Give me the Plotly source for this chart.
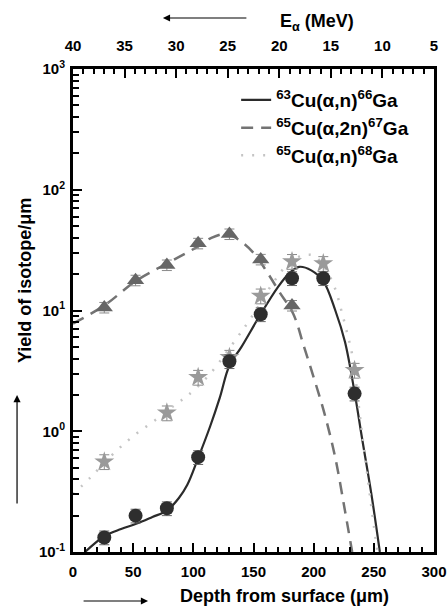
import plotly.graph_objects as go

# ---- data ----
depth_ga66 = [26, 52, 78, 104, 130, 156, 182, 208, 234]
yield_ga66 = [0.132, 0.20, 0.23, 0.61, 3.8, 9.3, 18.5, 18.5, 2.05]

depth_ga67 = [26, 52, 78, 104, 130, 156, 182]
yield_ga67 = [10.6, 17.8, 23.8, 36.0, 43.0, 26.5, 11.0]

depth_ga68 = [26, 78, 104, 130, 156, 182, 208, 234]
yield_ga68 = [0.56, 1.42, 2.8, 4.1, 13.2, 25.5, 24.5, 3.2]

fit66_x = [10, 26, 40, 53, 66, 78, 88, 95, 104, 114, 122, 130, 140, 155, 170, 180, 188,
           198, 208, 218, 226, 234, 240, 248, 255]
fit66_y = [0.1, 0.135, 0.155, 0.172, 0.195, 0.22, 0.28, 0.36, 0.6, 1.1, 1.9, 3.5, 5.0,
           9.0, 15.5, 20.5, 23.0, 21.5, 17.5, 10.0, 5.5, 2.1, 0.9, 0.3, 0.1]

fit67_x = [0, 26, 52, 78, 104, 115, 128, 140, 150, 161, 172, 183, 192, 200, 209, 218, 226, 232]
fit67_y = [7.8, 11.0, 17.5, 24.5, 34.0, 40.0, 43.0, 37.0, 30.0, 21.0, 14.0, 9.4, 5.0, 2.8,
           1.4, 0.6, 0.22, 0.1]

fit68_x = [0, 14, 32, 50, 68, 86, 96, 114, 135, 148, 166, 180, 191, 200, 210, 218, 223,
           228, 232, 240, 247, 253]
fit68_y = [0.3, 0.41, 0.63, 0.91, 1.23, 1.69, 2.0, 3.0, 5.7, 8.7, 16.8, 25.0, 28.5, 28.5,
           22.0, 15.0, 10.0, 6.4, 4.3, 1.0, 0.28, 0.1]

energy_ticks = [40, 35, 30, 25, 20, 15, 10, 5]
y_tickvals = [0.1, 1, 10, 100, 1000]
y_ticktext = ["10<sup>-1</sup>", "10<sup>0</sup>", "10<sup>1</sup>", "10<sup>2</sup>", "10<sup>3</sup>"]

names = ["<b><sup>63</sup>Cu(α,n)<sup>66</sup>Ga</b>",
         "<b><sup>65</sup>Cu(α,2n)<sup>67</sup>Ga</b>",
         "<b><sup>65</sup>Cu(α,n)<sup>68</sup>Ga</b>"]

FONT = "Liberation Sans"

fig = go.Figure()

# fitted curves (legend entries)
fig.add_trace(go.Scatter(x=fit66_x, y=fit66_y, mode="lines", name=names[0],
                         line=dict(color="#2b2b2b", width=2.2, shape="spline")))
fig.add_trace(go.Scatter(x=fit67_x, y=fit67_y, mode="lines", name=names[1],
                         line=dict(color="#737373", width=2.5, dash="12px,8px", shape="spline")))
fig.add_trace(go.Scatter(x=fit68_x, y=fit68_y, mode="lines", name=names[2],
                         line=dict(color="#c4c4c4", width=2.5, dash="2px,9px", shape="spline")))

# data points
fig.add_trace(go.Scatter(x=depth_ga67, y=yield_ga67, mode="markers", showlegend=False,
                         marker=dict(symbol="triangle-up", size=15, color="#666666"),
                         error_y=dict(type="percent", value=10, color="#8a8a8a", thickness=1, width=5)))
fig.add_trace(go.Scatter(x=depth_ga68, y=yield_ga68, mode="markers", showlegend=False,
                         marker=dict(symbol="star", size=15, color="#9a9a9a"),
                         error_y=dict(type="percent", value=14, color="#8a8a8a", thickness=1, width=5)))
fig.add_trace(go.Scatter(x=depth_ga66, y=yield_ga66, mode="markers", showlegend=False,
                         marker=dict(symbol="circle", size=14, color="#2e2e2e"),
                         error_y=dict(type="percent", value=13, color="#666666", thickness=1, width=5)))

# invisible trace to activate the top (energy) axis
fig.add_trace(go.Scatter(x=[energy_ticks[0], energy_ticks[-1]], y=[1, 1], xaxis="x2",
                         mode="markers", marker=dict(opacity=0), showlegend=False,
                         hoverinfo="skip"))

tickfont = dict(family=FONT, size=15, color="black", weight="bold")

fig.update_layout(
    width=448, height=610,
    margin=dict(l=73, r=14, t=69, b=58, autoexpand=False),
    paper_bgcolor="white", plot_bgcolor="white",
    font=dict(family=FONT, color="black"),
    xaxis=dict(range=[0, 300], dtick=50, tick0=0, ticks="inside", ticklen=9, tickwidth=2,
               tickcolor="black", showline=True, linewidth=3, linecolor="black", mirror=True,
               showgrid=False, zeroline=False, tickfont=tickfont, automargin=False,
               ticklabelstandoff=4,
               minor=dict(dtick=10, tick0=0, ticks="inside", ticklen=5, tickwidth=2,
                          tickcolor="black", showgrid=False)),
    xaxis2=dict(overlaying="x", side="top", range=[40, 5], tickmode="array",
                tickvals=energy_ticks, ticks="inside", ticklen=9, tickwidth=2,
                tickcolor="black", showline=True, linewidth=3, linecolor="black",
                showgrid=False, zeroline=False, tickfont=tickfont, automargin=False,
                ticklabelstandoff=9,
                minor=dict(dtick=1, tick0=0, ticks="inside", ticklen=5, tickwidth=2,
                           tickcolor="black", showgrid=False)),
    yaxis=dict(type="log", range=[-1, 3], tickmode="array", tickvals=y_tickvals,
               ticktext=y_ticktext, ticks="inside", ticklen=9, tickwidth=2, tickcolor="black",
               showline=True, linewidth=3, linecolor="black", mirror=True, showgrid=False,
               zeroline=False, tickfont=tickfont, automargin=False, ticklabelstandoff=2,
               minor=dict(dtick="D1", ticks="inside", ticklen=6, tickwidth=2,
                          tickcolor="black", showgrid=False)),
    legend=dict(x=0.945, y=0.975, xanchor="right", yanchor="top", bgcolor="rgba(0,0,0,0)",
                font=dict(family=FONT, size=19, color="black"), tracegroupgap=0),
    showlegend=True,
)

ann_font = dict(family=FONT, size=18, color="black")
fig.add_annotation(text="<b>Depth from surface (μm)</b>", xref="paper", yref="paper",
                   x=0.585, y=-0.091, showarrow=False, font=ann_font,
                   xanchor="center", yanchor="middle")
fig.add_annotation(text="", xref="paper", yref="paper", x=0.208, y=-0.1014,
                   ax=-66, ay=0, showarrow=True, arrowhead=2, arrowsize=1.2,
                   arrowwidth=1.2, arrowcolor="black")
fig.add_annotation(text="<b>E<sub>α</sub> (MeV)</b>", xref="paper", yref="paper",
                   x=0.675, y=1.097, showarrow=False, font=ann_font,
                   xanchor="center", yanchor="middle")
fig.add_annotation(text="", xref="paper", yref="paper", x=0.249, y=1.1056,
                   ax=85, ay=0, showarrow=True, arrowhead=2, arrowsize=1.2,
                   arrowwidth=1.2, arrowcolor="black")
fig.add_annotation(text="<b>Yield of isotope/μm</b>", xref="paper", yref="paper",
                   x=-0.133, y=0.563, textangle=-90, showarrow=False, font=ann_font,
                   xanchor="center", yanchor="middle")
fig.add_annotation(text="", xref="paper", yref="paper", x=-0.155, y=0.325,
                   ax=0, ay=110, showarrow=True, arrowhead=2, arrowsize=1.2,
                   arrowwidth=1.2, arrowcolor="black")

fig.write_html("out.html", config={"displayModeBar": False},
               post_script="document.body.style.margin='0';document.body.style.overflow='hidden';")
